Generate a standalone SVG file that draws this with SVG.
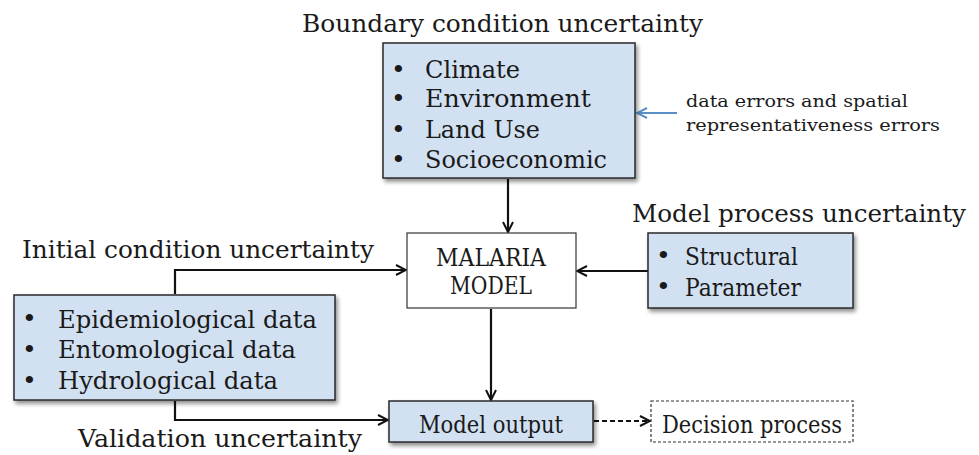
<svg xmlns="http://www.w3.org/2000/svg" width="979" height="455" viewBox="0 0 979 455">
  <defs>
    <filter id="shadow" x="-10%" y="-10%" width="125%" height="130%">
      <feGaussianBlur in="SourceAlpha" stdDeviation="2"/>
      <feOffset dx="2" dy="3" result="b"/>
      <feComponentTransfer><feFuncA type="linear" slope="0.45"/></feComponentTransfer>
      <feMerge><feMergeNode/><feMergeNode in="SourceGraphic"/></feMerge>
    </filter>
    <marker id="arrow" viewBox="0 0 12 12" refX="11" refY="6" markerWidth="12" markerHeight="12" markerUnits="userSpaceOnUse" orient="auto">
      <path d="M1,1 L11,6 L1,11" fill="none" stroke="#111" stroke-width="2"/>
    </marker>
    <marker id="arrowBlue" viewBox="0 0 12 12" refX="11" refY="6" markerWidth="12" markerHeight="12" markerUnits="userSpaceOnUse" orient="auto">
      <path d="M1,1 L11,6 L1,11" fill="none" stroke="#5b8fc7" stroke-width="2"/>
    </marker>
  </defs>
  <style>
    text { font-family: "DejaVu Serif", "Liberation Serif", serif; fill: #1a1a1a; }
    .title { font-size: 24px; }
    .item { font-size: 25px; }
    .note { font-size: 17px; }
    .box { fill: #d2e1f2; stroke: #2a2a2a; stroke-width: 1.5; filter: url(#shadow); }
    .plain { fill: #ffffff; stroke: #333; stroke-width: 1.2; }
    .dashed { fill: #ffffff; stroke: #333; stroke-width: 1.2; stroke-dasharray: 3 2; }
    .conn { fill: none; stroke: #111; stroke-width: 2.2; }
  </style>
  <rect width="979" height="455" fill="#ffffff"/>

  <!-- Connectors -->
  <g id="connectors">
    <path class="conn" d="M508,179 V232" marker-end="url(#arrow)"/>
    <path class="conn" d="M648,271 H577" marker-end="url(#arrow)"/>
    <path class="conn" d="M175,294 V270 H406" marker-end="url(#arrow)"/>
    <path class="conn" d="M491,309 V400" marker-end="url(#arrow)"/>
    <path class="conn" d="M175,401 V420 H388" marker-end="url(#arrow)"/>
    <path class="conn" d="M594,421 H650" stroke-dasharray="5 3" marker-end="url(#arrow)"/>
    <path d="M677,113 H637" fill="none" stroke="#5b8fc7" stroke-width="2.2" marker-end="url(#arrowBlue)"/>
  </g>

  <!-- Boundary conditions -->
  <g id="boundary">
    <text class="title" x="302" y="32" textLength="401" lengthAdjust="spacingAndGlyphs">Boundary condition uncertainty</text>
    <rect class="box" x="383" y="43" width="252" height="135"/>
    <g class="item">
      <text x="391" y="78">•</text><text x="425" y="78" textLength="95" lengthAdjust="spacingAndGlyphs">Climate</text>
      <text x="391" y="107">•</text><text x="425" y="107" textLength="166" lengthAdjust="spacingAndGlyphs">Environment</text>
      <text x="391" y="138">•</text><text x="425" y="138" textLength="115" lengthAdjust="spacingAndGlyphs">Land Use</text>
      <text x="391" y="168">•</text><text x="425" y="168" textLength="182" lengthAdjust="spacingAndGlyphs">Socioeconomic</text>
    </g>
  </g>

  <!-- Note on boundary data -->
  <g id="note">
    <text class="note" x="686" y="107" textLength="222" lengthAdjust="spacingAndGlyphs">data errors and spatial</text>
    <text class="note" x="686" y="131" textLength="254" lengthAdjust="spacingAndGlyphs">representativeness errors</text>
  </g>

  <!-- Malaria model -->
  <g id="model">
    <rect class="plain" x="407" y="233" width="169" height="75"/>
    <text class="item" x="491" y="266" text-anchor="middle" textLength="110" lengthAdjust="spacingAndGlyphs">MALARIA</text>
    <text class="item" x="491" y="294" text-anchor="middle" textLength="82" lengthAdjust="spacingAndGlyphs">MODEL</text>
  </g>

  <!-- Model process -->
  <g id="process">
    <text class="title" x="632" y="222" textLength="334" lengthAdjust="spacingAndGlyphs">Model process uncertainty</text>
    <rect class="box" x="648" y="233" width="205" height="75"/>
    <text class="item" x="656" y="264">•</text><text class="item" x="685" y="265" textLength="113" lengthAdjust="spacingAndGlyphs">Structural</text>
    <text class="item" x="656" y="295">•</text><text class="item" x="685" y="296" textLength="116" lengthAdjust="spacingAndGlyphs">Parameter</text>
  </g>

  <!-- Initial conditions -->
  <g id="initial">
    <text class="title" x="22" y="258" textLength="352" lengthAdjust="spacingAndGlyphs">Initial condition uncertainty</text>
    <rect class="box" x="14" y="295" width="321" height="105"/>
    <text class="item" x="22" y="327">•</text><text class="item" x="58" y="328" textLength="259" lengthAdjust="spacingAndGlyphs">Epidemiological data</text>
    <text class="item" x="22" y="358">•</text><text class="item" x="58" y="358" textLength="238" lengthAdjust="spacingAndGlyphs">Entomological data</text>
    <text class="item" x="22" y="389">•</text><text class="item" x="58" y="389" textLength="220" lengthAdjust="spacingAndGlyphs">Hydrological data</text>
  </g>

  <!-- Model output -->
  <g id="output">
    <rect class="box" x="389" y="401" width="204" height="41"/>
    <text class="item" x="491" y="433" text-anchor="middle" textLength="144" lengthAdjust="spacingAndGlyphs">Model output</text>
  </g>

  <!-- Decision process -->
  <g id="decision">
    <rect class="dashed" x="651" y="401" width="202" height="41"/>
    <text class="item" x="752" y="433" text-anchor="middle" textLength="180" lengthAdjust="spacingAndGlyphs">Decision process</text>
  </g>

  <!-- Validation label -->
  <g id="validation">
    <text class="title" x="78" y="447" textLength="284" lengthAdjust="spacingAndGlyphs">Validation uncertainty</text>
  </g>
</svg>
